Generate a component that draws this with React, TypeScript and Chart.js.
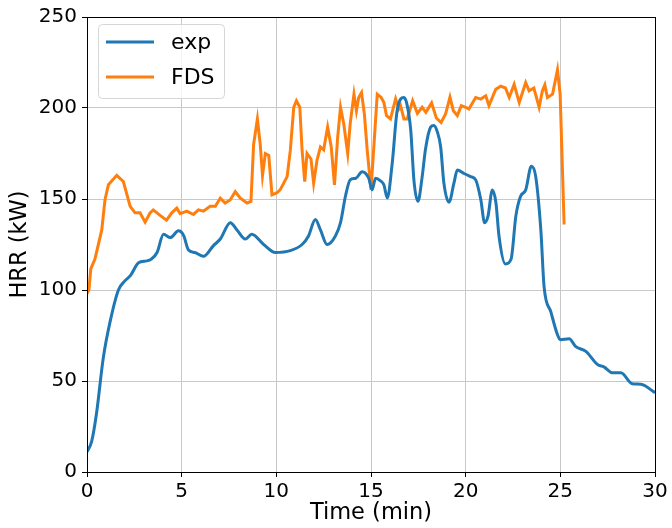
import React, { useEffect, useRef } from "react";
import { Chart, registerables } from "chart.js";

Chart.register(...registerables);

const xTicks = [0, 5, 10, 15, 20, 25, 30];
const yTicks = [0, 50, 100, 150, 200, 250];

const expTime = [0, 0.25, 0.5, 0.86, 1.22, 1.66, 2.0, 2.3, 2.72, 3.16, 3.4, 3.7, 4.04, 4.4, 4.83, 5.1, 5.36, 5.7, 6.15, 6.68, 7.04, 7.57, 7.92, 8.36, 8.7, 9.33, 9.95, 10.74, 11.36, 11.7, 12.06, 12.33, 12.68, 13.12, 13.39, 13.65, 13.9, 14.2, 14.53, 14.88, 15.06, 15.24, 15.5, 15.68, 15.86, 16.12, 16.38, 16.74, 16.9, 17.1, 17.27, 17.48, 17.7, 17.88, 18.15, 18.32, 18.5, 18.68, 18.85, 19.12, 19.38, 19.56, 19.91, 20.26, 20.53, 20.8, 21.0, 21.18, 21.41, 21.6, 21.76, 22.1, 22.4, 22.65, 22.9, 23.17, 23.47, 23.7, 23.97, 24.14, 24.5, 24.85, 25.0, 25.47, 25.8, 26.35, 26.97, 27.3, 27.76, 28.2, 28.8, 29.26, 30];
const expHRR = [11, 17, 32, 62.7, 82.6, 100, 105, 108, 115, 116, 117, 120.6, 130.6, 128.8, 132.5, 130, 122, 120.6, 118.5, 124.4, 128, 137, 133, 128, 130.6, 125, 120.6, 121.6, 125, 129.7, 138.8, 133, 125, 129.7, 137, 151.5, 160.5, 161.4, 165, 161.4, 155, 161.4, 160, 157.8, 150.5, 169.6, 198.5, 205.8, 202, 187.7, 160, 148.7, 162, 177.5, 189.5, 190.4, 187, 178.6, 158.7, 148.2, 158.7, 165.9, 164, 162.3, 160.5, 149.6, 137, 140.6, 155, 147.8, 129.7, 114.3, 117, 140.6, 151.5, 155, 168, 162.3, 133, 102, 88, 75.4, 72.7, 73.2, 69, 66.3, 59, 57.8, 54.5, 54.5, 48.5, 48.2, 43.6];

const fdsTime = [0, 0.1, 0.2, 0.42, 0.78, 0.95, 1.13, 1.57, 1.92, 2.28, 2.54, 2.8, 3.07, 3.33, 3.5, 3.86, 4.2, 4.48, 4.74, 4.92, 5.27, 5.62, 5.89, 6.15, 6.5, 6.78, 7.04, 7.3, 7.57, 7.83, 8.1, 8.45, 8.66, 8.8, 9.0, 9.15, 9.27, 9.42, 9.6, 9.77, 10.04, 10.2, 10.39, 10.57, 10.74, 10.92, 11.06, 11.24, 11.36, 11.5, 11.62, 11.83, 11.97, 12.15, 12.33, 12.5, 12.71, 12.9, 13.07, 13.24, 13.39, 13.56, 13.77, 13.9, 14.1, 14.23, 14.35, 14.5, 14.65, 14.8, 15.0, 15.15, 15.33, 15.54, 15.68, 15.82, 16.03, 16.3, 16.47, 16.56, 16.74, 16.91, 17.2, 17.45, 17.7, 17.9, 18.2, 18.45, 18.7, 18.94, 19.17, 19.35, 19.56, 19.77, 20.0, 20.17, 20.53, 20.8, 21.06, 21.23, 21.59, 21.85, 22.1, 22.3, 22.56, 22.83, 23.17, 23.35, 23.6, 23.88, 24.05, 24.18, 24.32, 24.59, 24.85, 24.99, 25.2];
const fdsHRR = [98, 100, 111.6, 117, 133, 149.6, 157.8, 163, 159.6, 146, 142.4, 142.4, 137.3, 142.4, 144, 141, 138.4, 142.4, 145, 142, 143.3, 141.5, 144, 143.3, 146, 146, 150.5, 147.8, 149.6, 154, 150.5, 147.8, 148.7, 180, 194, 180, 163, 175, 174, 152.3, 153.5, 155, 158.7, 162.3, 176.8, 200.4, 204, 200.4, 176.8, 159.6, 175, 172, 158.7, 171.4, 178.6, 177, 189.5, 178.6, 157.8, 184, 200.4, 191.3, 175, 191.3, 207.6, 198.5, 205.8, 208.5, 196.7, 176.8, 155, 178.6, 207.6, 205.8, 203, 195.8, 194, 205, 199.5, 201.3, 194, 194, 204, 197, 200.4, 197.6, 202.8, 194.5, 192, 196.7, 206, 198.5, 195.8, 201.3, 200.4, 199.5, 205.8, 204.9, 206.7, 201.3, 210.3, 212, 211, 205.8, 213, 203, 214, 209.4, 211, 200.4, 209.4, 212.7, 205.8, 207.6, 221, 207.6, 136];

const seriesNames = ["exp", "FDS"];
const seriesColors = ["#1f77b4", "#ff7f0e"];

const FONT = "'DejaVu Sans', sans-serif";

const frameAndLegend = {
  id: "frameAndLegend",
  afterDraw(chart: any) {
    const { ctx, chartArea } = chart;
    ctx.save();
    ctx.strokeStyle = "#000";
    ctx.lineWidth = 1;
    ctx.strokeRect(
      Math.round(chartArea.left) + 0.5,
      Math.round(chartArea.top) + 0.5,
      Math.round(chartArea.right - chartArea.left),
      Math.round(chartArea.bottom - chartArea.top)
    );
    const bx = 98.5, by = 24.5, bw = 126, bh = 74, r = 4;
    ctx.beginPath();
    ctx.moveTo(bx + r, by);
    ctx.lineTo(bx + bw - r, by);
    ctx.arcTo(bx + bw, by, bx + bw, by + r, r);
    ctx.lineTo(bx + bw, by + bh - r);
    ctx.arcTo(bx + bw, by + bh, bx + bw - r, by + bh, r);
    ctx.lineTo(bx + r, by + bh);
    ctx.arcTo(bx, by + bh, bx, by + bh - r, r);
    ctx.lineTo(bx, by + r);
    ctx.arcTo(bx, by, bx + r, by, r);
    ctx.closePath();
    ctx.fillStyle = "rgba(255,255,255,0.8)";
    ctx.fill();
    ctx.strokeStyle = "#d6d6d6";
    ctx.stroke();
    const rows = [42, 77];
    ctx.font = `22px ${FONT}`;
    ctx.textBaseline = "middle";
    ctx.textAlign = "left";
    seriesNames.forEach((name, i) => {
      ctx.strokeStyle = seriesColors[i];
      ctx.lineWidth = 3;
      ctx.beginPath();
      ctx.moveTo(106, rows[i]);
      ctx.lineTo(154, rows[i]);
      ctx.stroke();
      ctx.fillStyle = "#000";
      ctx.fillText(name, 171, rows[i] + 1);
    });
    ctx.restore();
  },
};

export default function App() {
  const ref = useRef<HTMLCanvasElement>(null);
  useEffect(() => {
    document.body.style.margin = "0";
    const canvas = ref.current!;
    const chart = new Chart(canvas, {
      type: "line",
      data: {
        datasets: [
          {
            label: seriesNames[0],
            data: expTime.map((t, i) => ({ x: t, y: expHRR[i] })),
            borderColor: seriesColors[0],
            backgroundColor: seriesColors[0],
            borderWidth: 3,
            pointRadius: 0,
            cubicInterpolationMode: "monotone",
          },
          {
            label: seriesNames[1],
            data: fdsTime.map((t, i) => ({ x: t, y: fdsHRR[i] })),
            borderColor: seriesColors[1],
            backgroundColor: seriesColors[1],
            borderWidth: 3,
            pointRadius: 0,
            tension: 0,
          },
        ],
      },
      options: {
        responsive: false,
        animation: false,
        layout: { padding: { top: 12, right: 17, left: 0, bottom: 0 } },
        plugins: { legend: { display: false }, tooltip: { enabled: false } },
        scales: {
          x: {
            type: "linear",
            min: 0,
            max: 30,
            afterBuildTicks: (s: any) => {
              s.ticks = xTicks.map((v) => ({ value: v }));
            },
            afterFit: (s: any) => {
              s.height = 56;
            },
            ticks: { font: { family: FONT, size: 20 }, color: "#000", padding: 3, maxRotation: 0 },
            grid: { color: "#c8c8c8", lineWidth: 1, tickLength: 5, tickColor: "#000" },
            border: { display: false },
            title: { display: true, text: "Time (min)", font: { family: FONT, size: 22.5 }, color: "#000", padding: { top: 0, bottom: 1 } },
          },
          y: {
            type: "linear",
            min: 0,
            max: 250,
            afterBuildTicks: (s: any) => {
              s.ticks = yTicks.map((v) => ({ value: v }));
            },
            afterFit: (s: any) => {
              s.width = 87;
            },
            ticks: { font: { family: FONT, size: 20 }, color: "#000", padding: 5 },
            grid: { color: "#c8c8c8", lineWidth: 1, tickLength: 5, tickColor: "#000" },
            border: { display: false },
            title: { display: true, text: "HRR (kW)", font: { family: FONT, size: 22.5 }, color: "#000", padding: { top: 7, bottom: 0 } },
          },
        },
      },
      plugins: [frameAndLegend],
    } as any);
    return () => chart.destroy();
  }, []);
  return (
    <div style={{ width: 672, height: 528 }}>
      <canvas ref={ref} width={672} height={528} style={{ display: "block" }} />
    </div>
  );
}
